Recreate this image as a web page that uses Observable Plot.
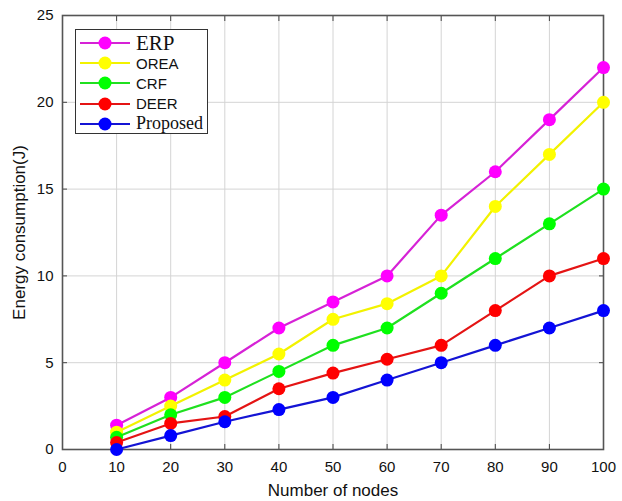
<!DOCTYPE html>
<html><head><meta charset="utf-8">
<script src="https://cdn.jsdelivr.net/npm/d3@7"></script>
<script src="https://cdn.jsdelivr.net/npm/@observablehq/plot@0.6"></script>
<style>
html,body{margin:0;padding:0;background:#fff;}
#wrap{position:relative;width:622px;height:501px;overflow:hidden;}
#legend{position:absolute;left:75px;top:29px;width:133px;height:105px;border:1.5px solid #333;background:#fff;box-sizing:border-box;}
.row{position:absolute;left:0;height:20px;display:flex;align-items:center;}
.row svg{display:block;}
.lab{margin-left:2px;white-space:nowrap;color:#111;}
</style></head><body><div id="wrap"><div id="legend"></div></div>
<script>
const nodes = [10, 20, 30, 40, 50, 60, 70, 80, 90, 100];
const seriesNames = ["ERP", "OREA", "CRF", "DEER", "Proposed"];
const erp      = [1.4, 3.0, 5.0, 7.0, 8.5, 10.0, 13.5, 16.0, 19.0, 22.0];
const orea     = [1.0, 2.5, 4.0, 5.5, 7.5, 8.4, 10.0, 14.0, 17.0, 20.0];
const crf      = [0.7, 2.0, 3.0, 4.5, 6.0, 7.0, 9.0, 11.0, 13.0, 15.0];
const deer     = [0.4, 1.5, 1.9, 3.5, 4.4, 5.2, 6.0, 8.0, 10.0, 11.0];
const proposed = [0.0, 0.8, 1.6, 2.3, 3.0, 4.0, 5.0, 6.0, 7.0, 8.0];
const xTicks = [0, 10, 20, 30, 40, 50, 60, 70, 80, 90, 100];
const yTicks = [0, 5, 10, 15, 20, 25];
const lineColors = ["#d622d6", "#f2f200", "#1fe01f", "#e41414", "#1414d4"];
const dotColors  = ["#ff00ff", "#ffff00", "#00ff00", "#ff0000", "#0000ff"];

const values = [erp, orea, crf, deer, proposed];
const data = seriesNames.map((s, i) => nodes.map((n, j) => ({series: s, x: n, y: values[i][j]})));

const font = "'Liberation Sans', Arial, sans-serif";
const chart = Plot.plot({
  width: 622, height: 501,
  marginLeft: 62, marginRight: 19, marginTop: 15, marginBottom: 52,
  x: {domain: [0, 100]},
  y: {domain: [0, 25]},
  style: {fontFamily: font, fontSize: "15px", color: "#111", background: "#fff"},
  marks: [
    Plot.gridX(xTicks, {stroke: "#d4d4d4", strokeOpacity: 1, strokeWidth: 1}),
    Plot.gridY(yTicks, {stroke: "#d4d4d4", strokeOpacity: 1, strokeWidth: 1}),
    Plot.axisX(xTicks, {anchor: "bottom", tickSize: -5, fill: "none", stroke: "#444", label: null}),
    Plot.axisX(xTicks, {anchor: "top", tickSize: -5, fill: "none", stroke: "#444", label: null}),
    Plot.axisY(yTicks, {anchor: "left", tickSize: -5, fill: "none", stroke: "#444", label: null}),
    Plot.axisY(yTicks, {anchor: "right", tickSize: -5, fill: "none", stroke: "#444", label: null}),
    Plot.axisX(xTicks, {anchor: "bottom", tickSize: 0, tickPadding: 12, fontSize: 15, fill: "#111",
      label: "Number of nodes", labelAnchor: "center", labelArrow: "none", labelOffset: 46}),
    Plot.axisY(yTicks, {anchor: "left", tickSize: 0, tickPadding: 9, fontSize: 15, fill: "#111",
      label: "Energy consumption(J)", labelAnchor: "center", labelArrow: "none", labelOffset: 50}),
    Plot.frame({stroke: "#555", strokeWidth: 1.6}),
    ...data.flatMap((d, i) => [
      Plot.line(d, {x: "x", y: "y", stroke: lineColors[i], strokeWidth: 2.2}),
      Plot.dot(d, {x: "x", y: "y", fill: dotColors[i], r: 6.5})
    ])
  ]
});
// larger axis-label font
chart.querySelectorAll("text").forEach(t => {
  if (t.textContent === "Number of nodes" || t.textContent === "Energy consumption(J)") t.setAttribute("font-size", "17px");
});
const wrap = document.getElementById("wrap");
wrap.insertBefore(chart, wrap.firstChild);

// legend
const legend = document.getElementById("legend");
const legendFonts = [
  {family: "'Liberation Serif', 'Times New Roman', serif", size: 21},
  {family: font, size: 15},
  {family: font, size: 15},
  {family: font, size: 15},
  {family: "'Liberation Serif', 'Times New Roman', serif", size: 18}
];
seriesNames.forEach((s, i) => {
  const row = document.createElement("div");
  row.className = "row";
  row.style.top = (3 + i * 20.2) + "px";
  row.innerHTML = `<svg width="58" height="20"><line x1="4" x2="54" y1="10" y2="10" stroke="${lineColors[i]}" stroke-width="2.2"/><circle cx="29" cy="10" r="6.5" fill="${dotColors[i]}"/></svg><span class="lab" style="font-family:${legendFonts[i].family};font-size:${legendFonts[i].size}px">${s}</span>`;
  legend.appendChild(row);
});
</script></body></html>
